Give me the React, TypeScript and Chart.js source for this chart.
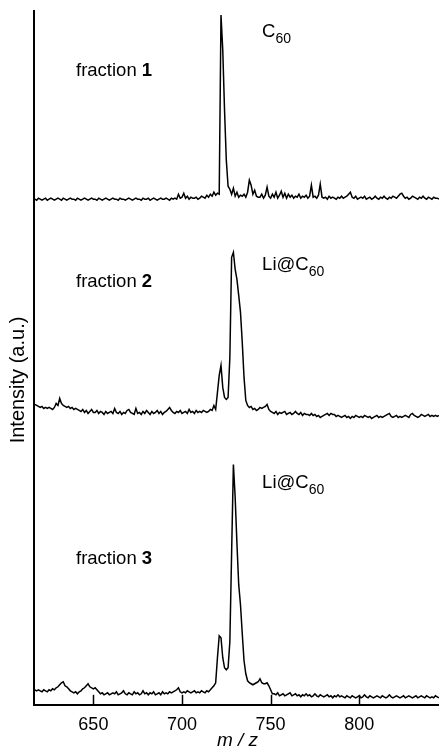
import React, { useEffect, useRef } from "react";
import { Chart, registerables } from "chart.js";

Chart.register(...registerables);

// m/z sampling grid (1 u steps)
const MZ_START = 617;
const MZ_END = 845;
const MZ: number[] = [];
for (let m = MZ_START; m <= MZ_END; m++) MZ.push(m);

// Intensities (a.u.), relative to each trace's baseline
const FRACTION1 = [
  1, 0, 2, 1, 0, 1, 2, 0, 1, 2, // 617
  1, 0, 1, 2, 1, 0, 2, 1, 0, 1, // 627
  2, 1, 1, 0, 2, 1, 0, 1, 2, 1, // 637
  0, 1, 2, 1, 1, 0, 2, 1, 0, 1, // 647
  2, 1, 0, 1, 2, 1, 1, 0, 2, 1, // 657
  1, 0, 1, 2, 1, 0, 1, 2, 1, 1, // 667
  0, 2, 1, 1, 2, 0, 1, 2, 1, 0, // 677
  1, 2, 1, 1, 2, 1, 0, 2, 1, 2, // 687
  1, 6, 2, 3, 7, 2, 4, 1, 3, 2, // 697
  2, 3, 1, 2, 4, 3, 2, 5, 3, 6, // 707
  4, 8, 5, 7, 6, 185, 150, 90, 40, 14, // 717
  11, 6, 12, 4, 8, 3, 5, 4, 6, 3, // 727
  8, 20, 15, 6, 10, 4, 3, 3, 6, 2, // 737
  5, 13, 4, 2, 6, 3, 8, 2, 5, 9, // 747
  3, 7, 2, 6, 3, 5, 2, 4, 3, 6, // 757
  2, 4, 3, 5, 2, 4, 15, 3, 4, 2, // 767
  5, 16, 3, 2, 3, 1, 4, 2, 3, 2, // 777
  1, 3, 2, 4, 2, 3, 4, 6, 8, 3, // 787
  2, 4, 1, 2, 3, 2, 4, 1, 2, 3, // 797
  1, 2, 4, 2, 1, 3, 2, 4, 2, 1, // 807
  3, 2, 4, 3, 2, 4, 6, 7, 4, 2, // 817
  3, 1, 2, 4, 3, 2, 1, 3, 2, 4, // 827
  2, 1, 3, 2, 1, 3, 2, 2, 1, // 837
];

const FRACTION2 = [
  13, 12, 11, 10, 11, 9, 10, 9, 10, 9, // 617
  8, 10, 14, 12, 19, 14, 12, 11, 10, 11, // 627
  9, 10, 8, 9, 8, 7, 6, 8, 5, 7, // 637
  4, 6, 8, 5, 5, 7, 4, 6, 5, 3, // 647
  6, 4, 5, 6, 4, 9, 5, 4, 6, 3, // 657
  5, 4, 7, 8, 5, 4, 3, 9, 4, 5, // 667
  3, 6, 4, 7, 5, 3, 6, 4, 5, 7, // 677
  4, 6, 3, 5, 6, 8, 10, 7, 5, 4, // 687
  6, 5, 7, 4, 5, 6, 4, 8, 5, 6, // 697
  4, 7, 5, 6, 5, 7, 6, 5, 6, 8, // 707
  7, 12, 8, 25, 42, 52, 30, 20, 18, 20, // 717
  60, 160, 165, 148, 138, 122, 105, 75, 40, 17, // 727
  12, 10, 11, 8, 9, 7, 8, 10, 9, 10, // 737
  11, 13, 8, 6, 5, 4, 6, 3, 5, 4, // 747
  5, 6, 3, 4, 5, 3, 4, 6, 4, 3, // 757
  5, 2, 4, 3, 3, 2, 4, 2, 3, 1, // 767
  2, 0, 1, 2, 3, 4, 2, 4, 3, 3, // 777
  1, 2, 1, 0, 1, 2, 0, 1, -1, 1, // 787
  0, 2, 1, 0, 1, 0, 2, 1, 0, 1, // 797
  -1, 0, 1, 2, 0, 1, 0, 1, 2, 3, // 807
  4, 1, 0, 1, 2, 0, 1, 0, 1, 2, // 817
  1, 0, 3, 4, 2, 1, 0, 1, 3, 2, // 827
  1, 2, 3, 1, 2, 1, 2, 1, 2, // 837
];

const FRACTION3 = [
  8, 7, 8, 7, 6, 8, 7, 6, 8, 7, // 617
  9, 8, 10, 11, 13, 15, 16, 12, 11, 9, // 627
  7, 6, 5, 6, 4, 6, 7, 9, 10, 12, // 637
  14, 11, 10, 9, 10, 8, 6, 4, 5, 3, // 647
  4, 5, 3, 4, 5, 4, 6, 3, 4, 5, // 657
  7, 4, 3, 5, 4, 3, 6, 4, 5, 3, // 667
  4, 7, 4, 5, 3, 5, 4, 6, 3, 4, // 677
  5, 3, 6, 4, 5, 4, 6, 5, 6, 7, // 687
  8, 10, 6, 5, 6, 5, 7, 6, 5, 6, // 697
  7, 5, 6, 5, 7, 6, 5, 7, 6, 8, // 707
  10, 12, 15, 40, 62, 60, 40, 30, 28, 30, // 717
  56, 145, 233, 200, 154, 113, 93, 64, 37, 24, // 727
  17, 15, 14, 13, 14, 15, 16, 19, 15, 14, // 737
  14, 15, 12, 8, 4, 4, 3, 5, 2, 3, // 747
  4, 2, 3, 4, 5, 2, 3, 4, 2, 3, // 757
  1, 3, 2, 4, 2, 3, 1, 2, 4, 2, // 767
  1, 3, 2, 1, 2, 3, 1, 2, 0, 2, // 777
  1, 3, 1, 2, 1, 0, 2, 1, 0, 2, // 787
  1, 0, 1, 2, 0, 1, 3, 1, 0, 2, // 797
  1, 0, 1, 2, 1, 0, 2, 1, 0, 1, // 807
  3, 1, 0, 1, 2, 1, 0, 1, 2, 0, // 817
  1, 2, 1, 0, 1, 2, 0, 1, 2, 1, // 827
  0, 2, 1, 0, 1, 0, 2, 1, 0, // 837
];

const SERIES = [FRACTION1, FRACTION2, FRACTION3];
// vertical stacking offsets of the three traces (a.u.)
const OFFSETS = [504, 287, 7];

const X_MIN = 616.5;
const X_MAX = 845;
const Y_MIN = 0;
const Y_MAX = 693;
const X_TICKS = [650, 700, 750, 800];

// annotation anchors in data coordinates (m/z, a.u.)
const FRACTION_NAMES = ["1", "2", "3"];
const FRACTION_LABEL_MZ = 640.2;
const FRACTION_LABEL_Y = [628, 417, 141];
const PEAK_NAMES = ["C", "Li@C", "Li@C"];
const PEAK_SUB = "60";
const PEAK_LABEL_MZ = 745.2;
const PEAK_LABEL_Y = [667, 434, 217];

const X_TITLE = "m / z";
const Y_TITLE = "Intensity (a.u.)";

const FONT = "'Liberation Sans', Arial, Helvetica, sans-serif";

const overlayPlugin = {
  id: "overlay",
  afterDraw(chart: any) {
    const ctx: CanvasRenderingContext2D = chart.ctx;
    const xs = chart.scales.x;
    const ys = chart.scales.y;
    const area = chart.chartArea;
    ctx.save();
    // inward x ticks
    ctx.strokeStyle = "#000";
    ctx.lineWidth = 1.5;
    xs.ticks.forEach((t: any) => {
      const px = Math.round(xs.getPixelForValue(t.value)) + 0.5;
      ctx.beginPath();
      ctx.moveTo(px, area.bottom);
      ctx.lineTo(px, area.bottom - 10);
      ctx.stroke();
    });
    ctx.fillStyle = "#000";
    ctx.textBaseline = "alphabetic";
    ctx.textAlign = "left";
    // fraction labels
    FRACTION_NAMES.forEach((n, i) => {
      const x = xs.getPixelForValue(FRACTION_LABEL_MZ);
      const y = ys.getPixelForValue(FRACTION_LABEL_Y[i]);
      ctx.font = `18.5px ${FONT}`;
      const pre = "fraction ";
      ctx.fillText(pre, x, y);
      const w = ctx.measureText(pre).width;
      ctx.font = `bold 18.5px ${FONT}`;
      ctx.fillText(n, x + w, y);
    });
    // peak labels
    PEAK_NAMES.forEach((n, i) => {
      const x = xs.getPixelForValue(PEAK_LABEL_MZ);
      const y = ys.getPixelForValue(PEAK_LABEL_Y[i]);
      ctx.font = `18.5px ${FONT}`;
      ctx.fillText(n, x, y);
      const w = ctx.measureText(n).width;
      ctx.font = `14px ${FONT}`;
      ctx.fillText(PEAK_SUB, x + w, y + 6);
    });
    // x axis title
    ctx.textAlign = "center";
    ctx.textBaseline = "middle";
    ctx.font = `italic 19px ${FONT}`;
    ctx.fillText(X_TITLE, (area.left + area.right) / 2 + 1, area.bottom + 36);
    // y axis title
    ctx.translate(area.left - 16, 380);
    ctx.rotate(-Math.PI / 2);
    ctx.font = `20px ${FONT}`;
    ctx.fillText(Y_TITLE, 0, 0);
    ctx.restore();
  },
};

export default function App() {
  const ref = useRef<HTMLCanvasElement | null>(null);
  useEffect(() => {
    if (!ref.current) return;
    const datasets = SERIES.map((s, i) => ({
      label: `fraction ${i + 1}`,
      data: MZ.map((m, j) => ({ x: m, y: s[j] + OFFSETS[i] })),
      borderColor: "#000",
      borderWidth: 1.5,
      pointRadius: 0,
      tension: 0,
      fill: false,
    }));
    const chart = new Chart(ref.current, {
      type: "line",
      data: { datasets },
      plugins: [overlayPlugin],
      options: {
        animation: false,
        responsive: true,
        maintainAspectRatio: false,
        color: "#000",
        layout: { padding: { left: 34, top: 11, right: 0, bottom: 2.2 } },
        plugins: { legend: { display: false }, tooltip: { enabled: false } },
        scales: {
          x: {
            type: "linear",
            min: X_MIN,
            max: X_MAX,
            afterBuildTicks: (scale: any) => {
              scale.ticks = X_TICKS.map((v) => ({ value: v }));
            },
            ticks: {
              color: "#000",
              padding: 9.2,
              includeBounds: false,
              maxRotation: 0,
              font: { family: FONT, size: 18, lineHeight: 1.2 },
              callback: (v: any) => String(v),
            },
            grid: { display: false, drawTicks: false },
            border: { display: true, color: "#000", width: 2 },
            title: { display: false },
          },
          y: {
            type: "linear",
            min: Y_MIN,
            max: Y_MAX,
            ticks: { display: false },
            grid: { display: false, drawTicks: false },
            border: { display: true, color: "#000", width: 2 },
            title: { display: false },
          },
        },
      },
    });
    return () => chart.destroy();
  }, []);
  return (
    <div style={{ position: "fixed", left: 0, top: 0, width: 439, height: 747 }}>
      <canvas ref={ref} />
    </div>
  );
}
